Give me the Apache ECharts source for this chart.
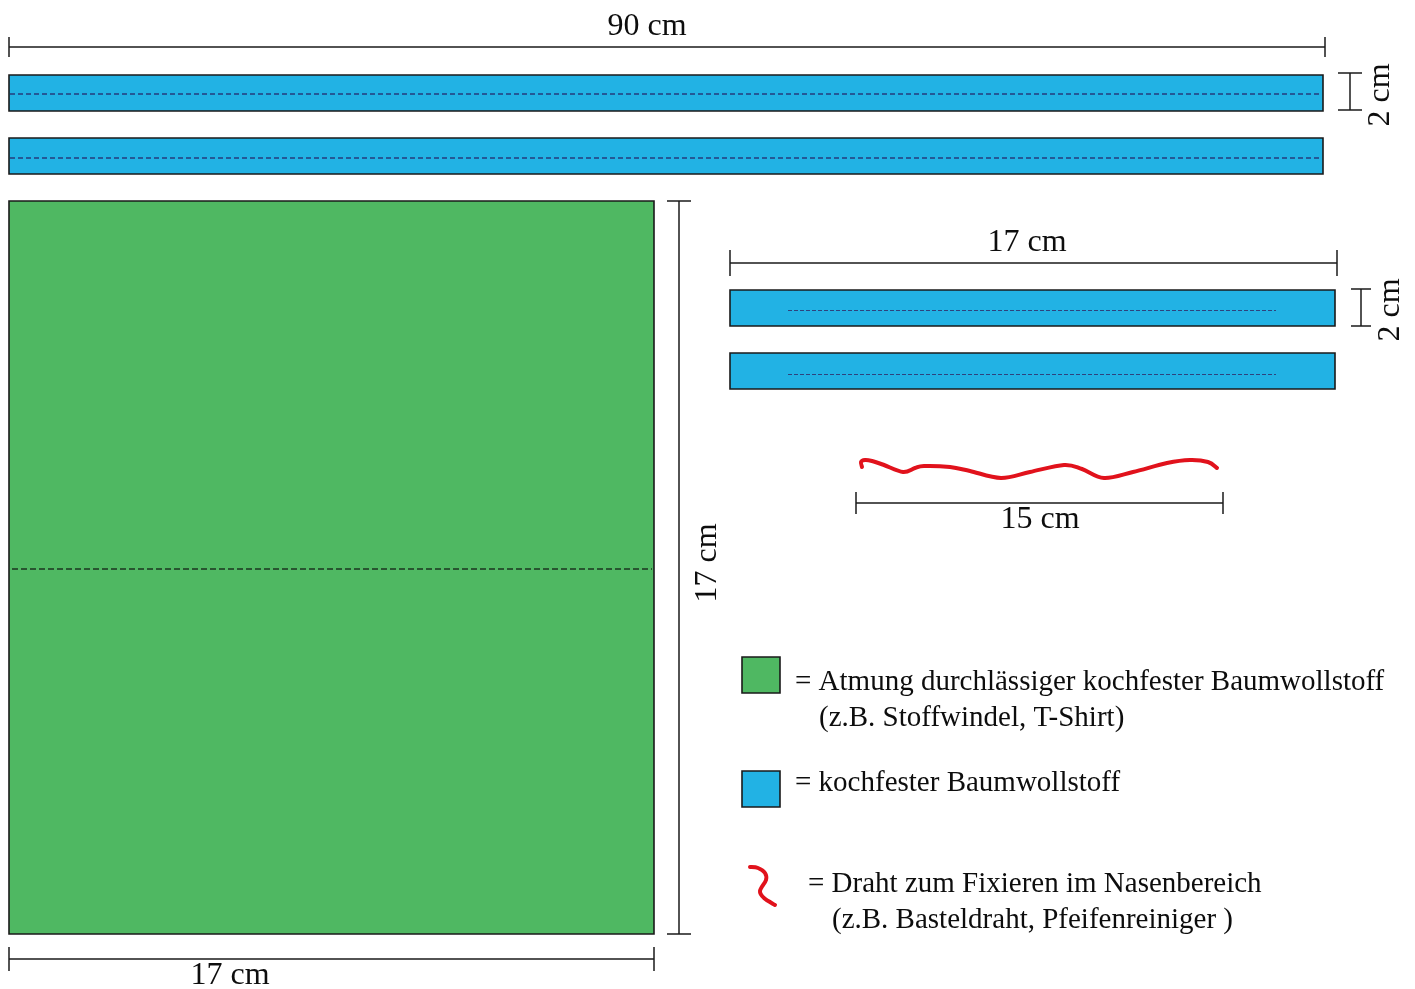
<!DOCTYPE html>
<html>
<head>
<meta charset="utf-8">
<script src="https://cdn.jsdelivr.net/npm/echarts@6/dist/echarts.min.js"></script>
<style>html,body{margin:0;padding:0;background:#fff;}#c{width:1415px;height:989px;}</style>
</head>
<body>
<div id="c"></div>
<script>
// Diagram coordinates (in picture units, origin top-left)
const blueStrips = [
  [9, 75, 1323, 111],
  [9, 138, 1323, 174],
  [730, 290, 1335, 326],
  [730, 353, 1335, 389]
];
const greenPanels = [
  [9, 201, 654, 934]
];
const legendSwatches = [
  [742, 657, 780, 693, 'green'],
  [742, 771, 780, 807, 'blue']
];
// dimension lines: x1, y1, x2, y2, cap half-length
const dimensions = [
  [9, 47, 1325, 47, 10],
  [1350, 73, 1350, 110, 12],
  [679, 201, 679, 934, 12],
  [9, 959, 654, 959, 12],
  [730, 263, 1337, 263, 13],
  [1361, 289, 1361, 326, 10],
  [856, 503, 1223, 503, 11]
];
// seam (dashed) lines
const seamsBlue = [
  [10, 94, 1321, 94],
  [10, 158, 1321, 158]
];
const seamsSmall = [
  [788, 310, 1276, 310],
  [788, 374, 1276, 374]
];
const seamsGreen = [
  [12, 569, 652, 569]
];
// wire (traced points of the wavy wire)
const wirePoints = [
  [862, 467], [861, 462], [865, 460], [872, 461], [884, 465], [903, 472], [915, 468],
  [924, 466], [950, 467], [970, 471], [1001, 478], [1030, 472], [1064, 465],
  [1082, 469], [1104, 478], [1133, 472], [1167, 463], [1190, 460], [1208, 462], [1217, 468]
];
const legendWire = [
  [750, 867], [758, 868], [765, 873], [766, 880], [760, 891], [764, 898], [775, 905]
];
// labels: text, x, y, rotation (deg), size, align
const labels = [
  ['90 cm', 647, 27, 0, 32, 'center'],
  ['2 cm', 1381, 95, 90, 32, 'center'],
  ['17 cm', 708, 563, 90, 32, 'center'],
  ['17 cm', 230, 976, 0, 32, 'center'],
  ['17 cm', 1027, 243, 0, 32, 'center'],
  ['2 cm', 1391, 310, 90, 32, 'center'],
  ['15 cm', 1040, 520, 0, 32, 'center'],
  ['= Atmung durchlässiger kochfester Baumwollstoff', 795, 682, 0, 29, 'left'],
  ['(z.B. Stoffwindel, T-Shirt)', 819, 718, 0, 29, 'left'],
  ['= kochfester Baumwollstoff', 795, 783, 0, 29, 'left'],
  ['= Draht zum Fixieren im Nasenbereich', 808, 884, 0, 29, 'left'],
  ['(z.B. Basteldraht, Pfeifenreiniger )', 832, 920, 0, 29, 'left']
];

const BLUE = '#22b2e4';
const GREEN = '#4fb862';
const RED = '#e1121c';
const FONT = '"Liberation Serif", "DejaVu Serif", serif';

function rectItem(fill) {
  return function (params, api) {
    const p1 = api.coord([api.value(0), api.value(1)]);
    const p2 = api.coord([api.value(2), api.value(3)]);
    return {
      type: 'rect',
      shape: { x: Math.min(p1[0], p2[0]), y: Math.min(p1[1], p2[1]), width: Math.abs(p2[0] - p1[0]), height: Math.abs(p2[1] - p1[1]) },
      style: { fill: typeof fill === 'function' ? fill(params.dataIndex) : fill, stroke: '#1a1a1a', lineWidth: 1.6 }
    };
  };
}

function segLines(arr, color, width, type) {
  return {
    type: 'lines', coordinateSystem: 'cartesian2d', silent: true, polyline: false,
    lineStyle: { color: color, width: width, type: type, opacity: 1 },
    data: arr.map(s => ({ coords: [[s[0], s[1]], [s[2], s[3]]] })),
    z: 5
  };
}

// smooth curve through points (Catmull-Rom -> cubic bezier) in pixel space
function curvePath(pts) {
  let d = 'M' + pts[0][0] + ' ' + pts[0][1];
  for (let i = 0; i < pts.length - 1; i++) {
    const p0 = pts[Math.max(i - 1, 0)], p1 = pts[i], p2 = pts[i + 1], p3 = pts[Math.min(i + 2, pts.length - 1)];
    const c1x = p1[0] + (p2[0] - p0[0]) / 6, c1y = p1[1] + (p2[1] - p0[1]) / 6;
    const c2x = p2[0] - (p3[0] - p1[0]) / 6, c2y = p2[1] - (p3[1] - p1[1]) / 6;
    d += ' C' + c1x + ' ' + c1y + ' ' + c2x + ' ' + c2y + ' ' + p2[0] + ' ' + p2[1];
  }
  return d;
}

function wireSeries(points, width) {
  return {
    type: 'custom', z: 6, data: [0],
    renderItem: function (params, api) {
      const pts = points.map(p => api.coord(p));
      return {
        type: 'path',
        shape: { pathData: curvePath(pts) },
        style: { stroke: RED, lineWidth: width, fill: null, lineCap: 'round', lineJoin: 'round' }
      };
    }
  };
}

// build dimension segments (main line + end caps)
const dimSegs = [];
dimensions.forEach(d => {
  const [x1, y1, x2, y2, c] = d;
  dimSegs.push([x1, y1, x2, y2]);
  if (y1 === y2) {
    dimSegs.push([x1, y1 - c, x1, y1 + c]);
    dimSegs.push([x2, y2 - c, x2, y2 + c]);
  } else {
    dimSegs.push([x1 - c, y1, x1 + c, y1]);
    dimSegs.push([x2 - c, y2, x2 + c, y2]);
  }
});

const chart = echarts.init(document.getElementById('c'));
chart.setOption({
  animation: false,
  backgroundColor: '#ffffff',
  grid: { left: 0, right: 0, top: 0, bottom: 0 },
  xAxis: { type: 'value', min: 0, max: 1415, show: false },
  yAxis: { type: 'value', min: 0, max: 989, inverse: true, show: false },
  series: [
    { type: 'custom', renderItem: rectItem(BLUE), data: blueStrips, z: 2 },
    { type: 'custom', renderItem: rectItem(GREEN), data: greenPanels, z: 2 },
    { type: 'custom', renderItem: rectItem(i => legendSwatches[i][4] === 'green' ? GREEN : BLUE),
      data: legendSwatches.map(s => s.slice(0, 4)), z: 2 },
    segLines(seamsBlue, '#263c7c', 1.6, [5, 3]),
    segLines(seamsSmall, '#2e437e', 1.1, [4, 2]),
    segLines(seamsGreen, '#1c3520', 1.7, [6, 3]),
    segLines(dimSegs, '#1a1a1a', 1.5, 'solid'),
    wireSeries(wirePoints, 4),
    wireSeries(legendWire, 4),
    {
      type: 'custom', z: 10,
      data: labels.map(l => [l[1], l[2]]),
      renderItem: function (params, api) {
        const l = labels[params.dataIndex];
        const p = api.coord([api.value(0), api.value(1)]);
        return {
          type: 'text',
          x: p[0], y: p[1],
          rotation: l[3] * Math.PI / 180,
          style: {
            text: l[0], x: 0, y: 0,
            fill: '#0d0d0d',
            font: l[4] + 'px ' + FONT,
            textAlign: l[5], textVerticalAlign: 'middle'
          }
        };
      }
    }
  ]
});
</script>
</body>
</html>
